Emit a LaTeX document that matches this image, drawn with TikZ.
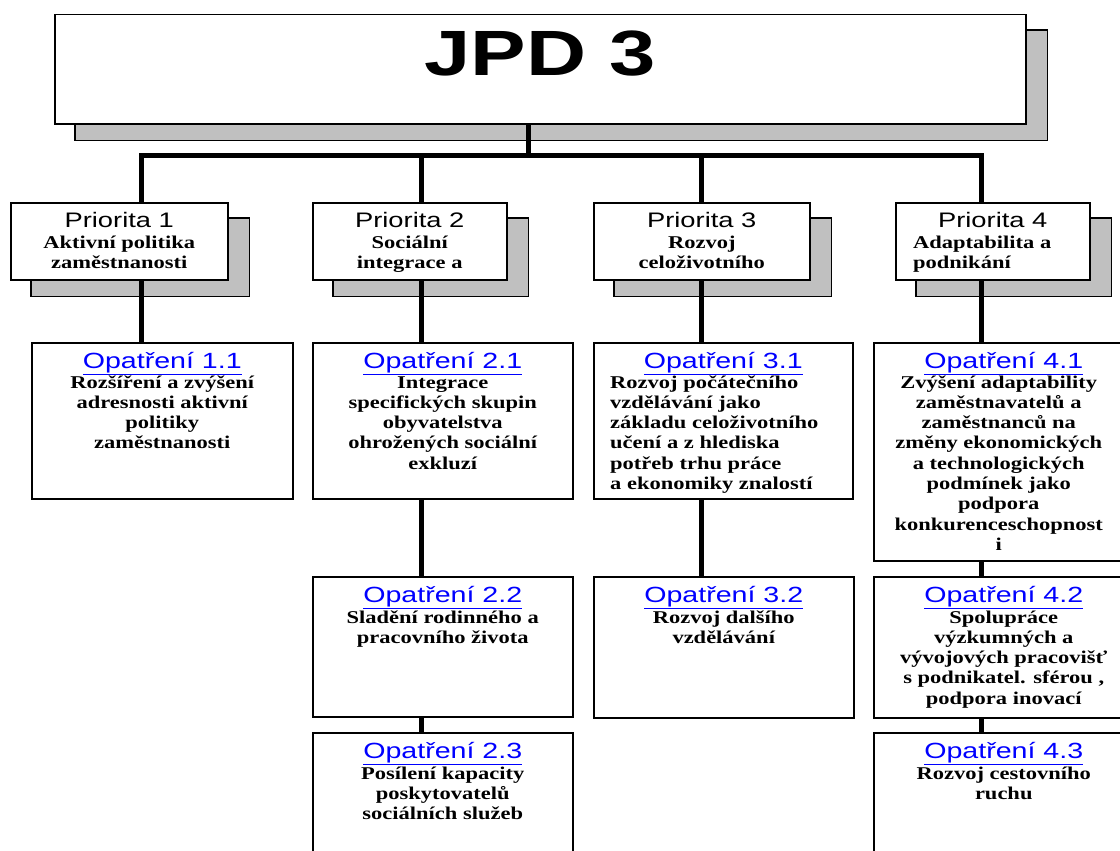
\documentclass[tikz,border=0pt]{standalone}
\usepackage{fontspec}
\newfontfamily\sansS[FakeStretch=1.3]{Liberation Sans}
\newfontfamily\serifS[FakeStretch=1.25]{Liberation Serif}
\definecolor{shadowgray}{RGB}{192,192,192}
\definecolor{linkblue}{RGB}{0,0,255}
\newcommand\linesc[1]{\begin{tabular}[t]{@{}c@{}}#1\end{tabular}}
\newcommand\linesl[1]{\begin{tabular}[t]{@{}l@{}}#1\end{tabular}}
\pgfdeclarelayer{bg}
\pgfdeclarelayer{mid}
\pgfsetlayers{bg,mid,main}
\tikzset{
  boxnode/.style={draw=black, line width=1.5pt, fill=white, rectangle, inner sep=0pt, anchor=north west},
  shade/.style={draw=black, line width=1.5pt, fill=shadowgray},
  conn/.style={draw=black, line width=5pt},
  titlesans/.style={font=\sansS\fontsize{21}{25}\selectfont, anchor=base, inner sep=0pt},
  linktitle/.style={font=\sansS\fontsize{22}{26}\selectfont, text=linkblue, anchor=base, inner sep=0pt},
  bodytext/.style={font=\serifS\bfseries\fontsize{18}{20.3}\selectfont, anchor=base, inner sep=0pt},
}
\begin{document}
\begin{tikzpicture}[x=1pt, y=-1pt]
\useasboundingbox (0,0) rectangle (1120,851);
\clip (0,0) rectangle (1120,851);

% ---- top box
\node[boxnode, minimum width=971pt, minimum height=109pt] (jpd) at (54,14) {};
\node[font=\sansS\bfseries\fontsize{64}{70}\selectfont, anchor=base, inner sep=0pt] (jpdt) at ([yshift=-62pt]jpd.north) {JPD 3};

% ---- priority boxes
\node[boxnode, minimum width=217pt, minimum height=77pt] (p1) at (10,202) {};
\node[boxnode, minimum width=194pt, minimum height=77pt] (p2) at (312,202) {};
\node[boxnode, minimum width=216pt, minimum height=77pt] (p3) at (593,202) {};
\node[boxnode, minimum width=194pt, minimum height=77pt] (p4) at (895,202) {};

\node[titlesans] (p1t) at ([yshift=-25pt]p1.north) {Priorita 1};
\node[titlesans] (p2t) at ([yshift=-25pt]p2.north) {Priorita 2};
\node[titlesans] (p3t) at ([yshift=-25pt]p3.north) {Priorita 3};
\node[titlesans] (p4t) at ([yshift=-25pt]p4.north) {Priorita 4};

\node[bodytext] (p1b) at ([yshift=-46pt]p1.north) {\linesc{Aktivní politika\\zaměstnanosti}};
\node[bodytext] (p2b) at ([yshift=-46pt]p2.north) {\linesc{Sociální\\integrace a}};
\node[bodytext] (p3b) at ([yshift=-46pt]p3.north) {\linesc{Rozvoj\\celoživotního}};
\node[bodytext, anchor=base west] (p4b) at ([xshift=18pt,yshift=-46pt]p4.north west) {\linesl{Adaptabilita a\\podnikání}};

% ---- measure boxes
\node[boxnode, minimum width=261pt, minimum height=156pt] (o11) at (31,342) {};
\node[boxnode, minimum width=260pt, minimum height=156pt] (o21) at (312,342) {};
\node[boxnode, minimum width=259pt, minimum height=156pt] (o31) at (593,342) {};
\node[boxnode, minimum width=260pt, minimum height=218pt] (o41) at (873,342) {};
\node[boxnode, minimum width=260pt, minimum height=140pt] (o22) at (312,576) {};
\node[boxnode, minimum width=260pt, minimum height=141pt] (o32) at (593,576) {};
\node[boxnode, minimum width=260pt, minimum height=141pt] (o42) at (873,576) {};
\node[boxnode, minimum width=260pt, minimum height=170pt] (o23) at (312,732) {};
\node[boxnode, minimum width=260pt, minimum height=170pt] (o43) at (873,732) {};

\foreach \n/\t in {o11/1.1, o21/2.1, o31/3.1, o41/4.1, o22/2.2, o32/3.2, o42/4.2, o23/2.3, o43/4.3}{
  \node[linktitle] (\n t) at ([yshift=-26pt]\n.north) {\underline{Opatření \t}};
}

\node[bodytext] (o11b) at ([yshift=-46pt]o11.north) {\linesc{Rozšíření a zvýšení\\adresnosti aktivní\\politiky\\zaměstnanosti}};
\node[bodytext] (o21b) at ([yshift=-46pt]o21.north) {\linesc{Integrace\\specifických skupin\\obyvatelstva\\ohrožených sociální\\exkluzí}};
\node[bodytext, anchor=base west] (o31b) at ([xshift=17pt,yshift=-46pt]o31.north west) {\linesl{Rozvoj počátečního\\vzdělávání jako\\základu celoživotního\\učení a z hlediska\\potřeb trhu práce\\a ekonomiky znalostí}};
\node[bodytext] (o41b) at ([xshift=-5pt,yshift=-46pt]o41.north) {\linesc{Zvýšení adaptability\\zaměstnavatelů a\\zaměstnanců na\\změny ekonomických\\a technologických\\podmínek jako\\podpora\\konkurenceschopnost\\i}};
\node[bodytext] (o22b) at ([yshift=-47pt]o22.north) {\linesc{Sladění rodinného a\\pracovního života}};
\node[bodytext] (o32b) at ([yshift=-47pt]o32.north) {\linesc{Rozvoj dalšího\\vzdělávání}};
\node[bodytext] (o42b) at ([yshift=-47pt]o42.north) {\linesc{Spolupráce\\výzkumných a\\vývojových pracovišť\\s podnikatel. sférou ,\\podpora inovací}};
\node[bodytext] (o23b) at ([yshift=-47pt]o23.north) {\linesc{Posílení kapacity\\poskytovatelů\\sociálních služeb}};
\node[bodytext] (o43b) at ([yshift=-47pt]o43.north) {\linesc{Rozvoj cestovního\\ruchu}};

% ---- shadows
\begin{pgfonlayer}{bg}
  \foreach \n in {jpd,p1,p2,p3,p4}{
    \path[shade] ([shift={(21pt,-16pt)}]\n.south west) rectangle ([shift={(21pt,-16pt)}]\n.north east);
  }
\end{pgfonlayer}

% ---- connectors
\coordinate (hub) at (528,155);
\coordinate (b1) at (141,155);
\coordinate (b2) at (421,155);
\coordinate (b3) at (701,155);
\coordinate (b4) at (981,155);
\begin{pgfonlayer}{mid}
  \draw[conn] (hub |- jpd.south) -- (hub);
  \draw[conn, line join=miter] (b1 |- o11.north) -- (b1) -- (b4) -- (b4 |- o41.north);
  \draw[conn] (b2) -- (b2 |- o21.north);
  \draw[conn] (b3) -- (b3 |- o31.north);
  \draw[conn] (b2 |- o21.south) -- (b2 |- o22.north);
  \draw[conn] (b2 |- o22.south) -- (b2 |- o23.north);
  \draw[conn] (b3 |- o31.south) -- (b3 |- o32.north);
  \draw[conn] (b4 |- o41.south) -- (b4 |- o42.north);
  \draw[conn] (b4 |- o42.south) -- (b4 |- o43.north);
\end{pgfonlayer}
\end{tikzpicture}
\end{document}
